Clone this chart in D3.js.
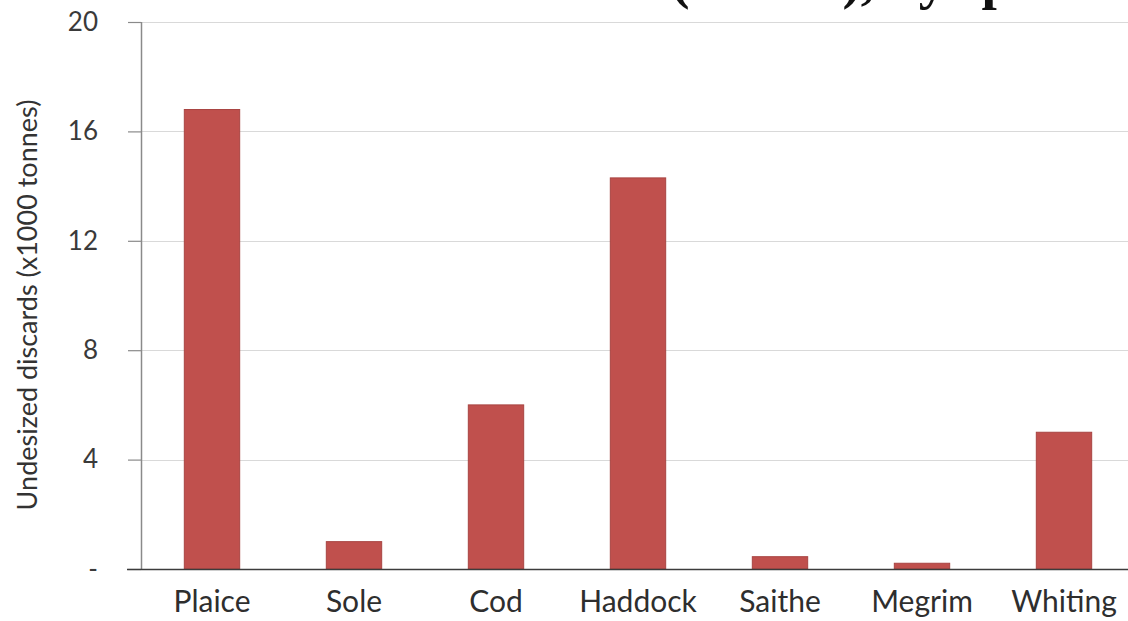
<!DOCTYPE html>
<html>
<head>
<meta charset="utf-8">
<script src="https://cdn.jsdelivr.net/npm/d3@7"></script>
<style>
  html, body { margin: 0; padding: 0; background: #fff; }
  svg { display: block; }
</style>
</head>
<body>
<svg id="chart" width="1128" height="621"></svg>
<script>
const categories = ["Plaice", "Sole", "Cod", "Haddock", "Saithe", "Megrim", "Whiting"];
const values = [16.8, 1.0, 6.0, 14.3, 0.45, 0.21, 5.0];
const yTicks = [0, 4, 8, 12, 16, 20];
const yTickLabels = ["-", "4", "8", "12", "16", "20"];
const yAxisTitle = "Undesized discards (x1000 tonnes)";
const chartTitle = "Undersized discards (tonnes), by species";

const svg = d3.select("#chart");
const W = 1128, H = 621;
const m = { left: 141, right: -7, top: 22, bottom: 52 };

const x = d3.scaleBand()
  .domain(categories)
  .range([m.left, W - m.right])
  .paddingInner(0.61)
  .paddingOuter(0.305);

const y = d3.scaleLinear()
  .domain([0, 20])
  .range([H - m.bottom, m.top]);

// Title (cropped at the top edge, as in the reference)
svg.append("text")
  .attr("x", 1122)
  .attr("y", -2)
  .attr("text-anchor", "end")
  .attr("font-family", "Liberation Serif, Times New Roman, serif")
  .attr("font-weight", "bold")
  .attr("font-size", 55)
  .attr("fill", "#111")
  .text(chartTitle);

// Gridlines
svg.append("g")
  .selectAll("line")
  .data(yTicks.filter(d => d > 0))
  .join("line")
  .attr("x1", m.left)
  .attr("x2", W)
  .attr("y1", d => Math.round(y(d)) + 0.5)
  .attr("y2", d => Math.round(y(d)) + 0.5)
  .attr("stroke", "#d9d9d9")
  .attr("stroke-width", 1);

// Bars
svg.append("g")
  .selectAll("rect")
  .data(values)
  .join("rect")
  .attr("x", (d, i) => x(categories[i]))
  .attr("width", x.bandwidth())
  .attr("y", d => y(d))
  .attr("height", d => y(0) - y(d))
  .attr("fill", "#c0504d")
  .attr("stroke", "#a84442")
  .attr("stroke-width", 1);

// Y axis
const yAxis = d3.axisLeft(y)
  .tickValues(yTicks)
  .tickSize(13)
  .tickPadding(30)
  .tickFormat((d, i) => yTickLabels[i]);

const gy = svg.append("g")
  .attr("transform", `translate(${m.left},0)`)
  .call(yAxis);
gy.select(".domain")
  .attr("d", `M0.5,${y(20)}V${y(0)}`)
  .attr("stroke", "#8a8a8a")
  .attr("stroke-width", 1.5);
gy.selectAll(".tick line").attr("stroke", "#8a8a8a").attr("stroke-width", 1.2);
gy.selectAll(".tick text")
  .attr("font-family", "Lato, sans-serif")
  .attr("font-size", 26)
  .attr("fill", "#3a3a3a");

// Baseline (x axis)
const xAxis = d3.axisBottom(x).tickSize(0).tickPadding(22);
const gx = svg.append("g")
  .attr("transform", `translate(0,${y(0)})`)
  .call(xAxis);
gx.select(".domain")
  .attr("d", `M127,0.5H${W}`)
  .attr("stroke", "#3c3c3c")
  .attr("stroke-width", 1.5);
gx.selectAll(".tick text")
  .attr("font-family", "Lato, sans-serif")
  .attr("font-size", 30)
  .attr("fill", "#2e2e2e");

// Y axis title
svg.append("text")
  .attr("transform", "translate(37,305) rotate(-90)")
  .attr("text-anchor", "middle")
  .attr("font-family", "Lato, sans-serif")
  .attr("font-size", 27)
  .attr("fill", "#333")
  .text(yAxisTitle);
</script>
</body>
</html>
